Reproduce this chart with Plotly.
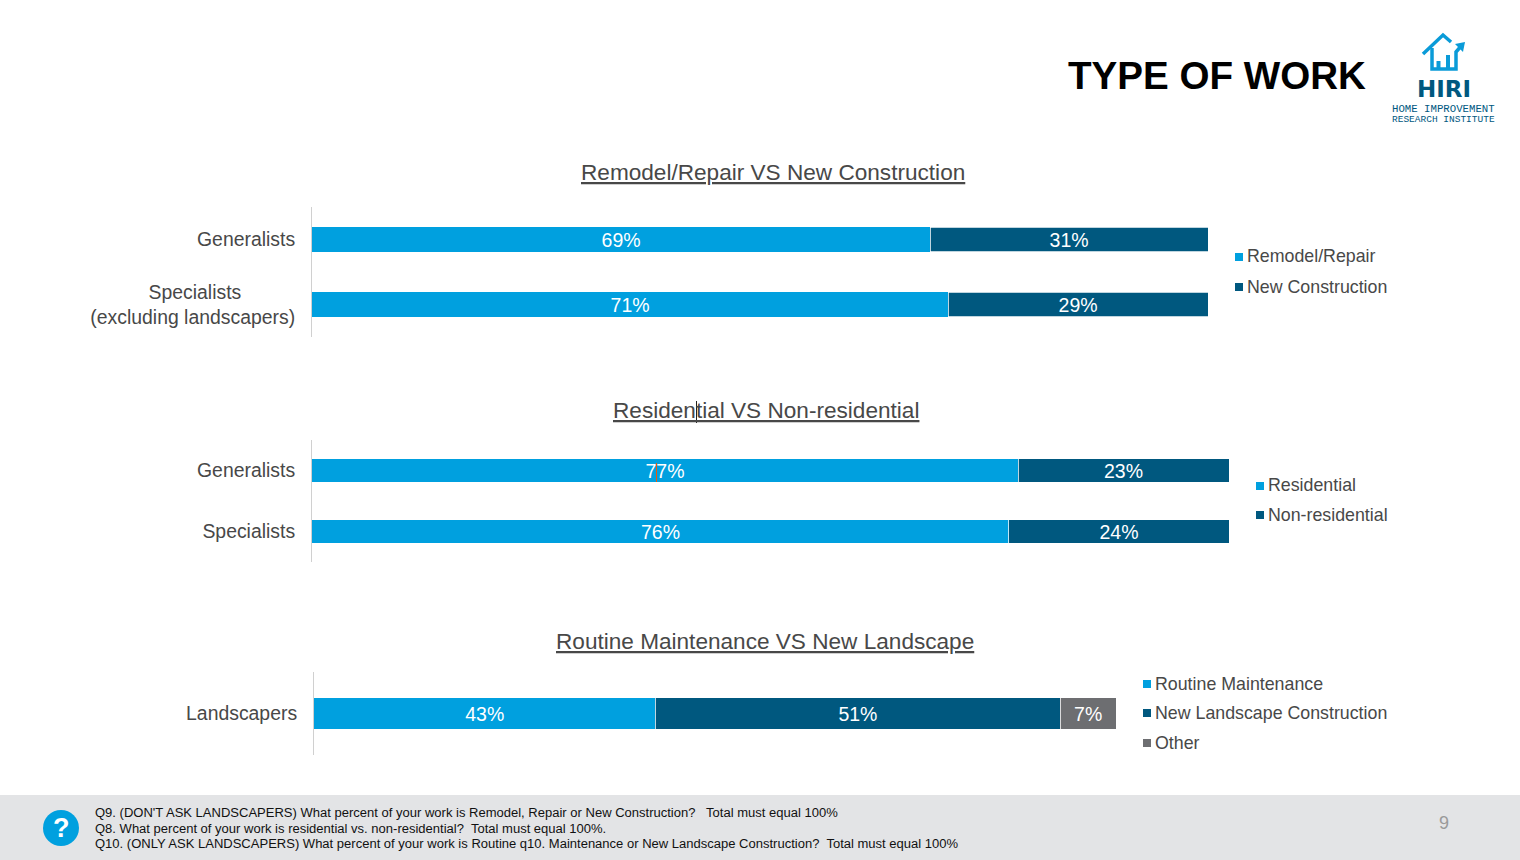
import plotly.graph_objects as go

W, H = 1520, 860
BLUE, DARK, GREY = "#00A0DF", "#00587F", "#6D6E71"
TXT = "#484848"
FONT = "Liberation Sans"

cats1 = ["Generalists", "Specialists"]
ticks1 = ["Generalists", "Specialists" + "\u00a0" * 10 + "<br>(excluding landscapers)"]
remodel = [69, 71]
newcon = [31, 29]

cats2 = ["Generalists", "Specialists"]
residential = [77, 76]
nonres = [23, 24]

cats3 = ["Landscapers"]
routine = [43]
newland = [51]
other = [7]

titles = ["Remodel/Repair VS New Construction", "Residential VS Non-residential",
          "Routine Maintenance VS New Landscape"]
footer = ["Q9. (DON'T ASK LANDSCAPERS) What percent of your work is Remodel, Repair or New Construction?   Total must equal 100%",
          "Q8. What percent of your work is residential vs. non-residential?  Total must equal 100%.",
          "Q10. (ONLY ASK LANDSCAPERS) What percent of your work is Routine q10. Maintenance or New Landscape Construction?  Total must equal 100%"]

px = lambda x: x / W
py = lambda y: 1 - y / H

fig = go.Figure()

def add(name, cats, vals, color, ax, edge=0.75):
    fig.add_trace(go.Bar(
        y=cats, x=vals, name=name, orientation="h", xaxis="x" + ax, yaxis="y" + ax,
        marker=dict(color=color, line=dict(color="white", width=edge)),
        text=[f"{v}%" for v in vals], textposition="inside", insidetextanchor="middle",
        textangle=0, constraintext="none",
        textfont=dict(color="white", size=19.5, family=FONT), showlegend=False))

add("Remodel/Repair", cats1, remodel, BLUE, "", 0)
add("New Construction", cats1, newcon, DARK, "")
add("Residential", cats2, residential, BLUE, "2", 0)
add("Non-residential", cats2, nonres, DARK, "2")
add("Routine Maintenance", cats3, routine, BLUE, "3", 0)
add("New Landscape Construction", cats3, newland, DARK, "3")
add("Other", cats3, other, GREY, "3")

def xax(x0, x1):
    return dict(domain=[px(x0), px(x1)], range=[0, 100], visible=False, fixedrange=True)

def yax(y0, y1, anchor, cats, ticks):
    return dict(domain=[py(y1), py(y0)], anchor=anchor, autorange="reversed", type="category",
                categoryorder="array", categoryarray=cats, tickmode="array", tickvals=cats, ticktext=ticks,
                showline=True, linecolor="#D0D0D0", linewidth=1, ticks="", ticklabelstandoff=12,
                showgrid=False, zeroline=False,
                tickfont=dict(family=FONT, size=19.4, color=TXT))

shapes = [
    dict(type="rect", xref="paper", yref="paper", x0=0, x1=1, y0=0, y1=py(795),
         fillcolor="#E3E4E6", line_width=0, layer="below"),
    dict(type="circle", xref="paper", yref="paper", x0=px(43), x1=px(79), y0=py(846), y1=py(810),
         fillcolor=BLUE, line_width=0),
    # stray text cursors visible on the slide
    dict(type="line", xref="paper", yref="paper", x0=px(696.5), x1=px(696.5), y0=py(423), y1=py(401),
         line=dict(color="#222222", width=1)),
    dict(type="line", xref="paper", yref="paper", x0=px(656.5), x1=px(656.5), y0=py(482), y1=py(463),
         line=dict(color="#E8590C", width=1)),
]

def pathstr(pts, close=False):
    s = "M" + " L".join(f"{px(x):.5f},{py(y):.5f}" for x, y in pts)
    return s + (" Z" if close else "")

LOGO = "#0A9BD8"
# HIRI logo: house outline, chart bars and arrow
for pts, w in [([(1423, 54), (1443, 35), (1451, 42)], 3.5),
               ([(1432, 48), (1432, 69), (1456, 69), (1456, 52), (1462, 45)], 3.5),
               ([(1438.5, 69), (1438.5, 61)], 4), ([(1448, 69), (1448, 55)], 4)]:
    shapes.append(dict(type="path", xref="paper", yref="paper", path=pathstr(pts),
                       line=dict(color=LOGO, width=w)))
shapes.append(dict(type="path", xref="paper", yref="paper",
                   path=pathstr([(1465, 42), (1455, 44), (1463, 52)], True),
                   fillcolor=LOGO, line_width=0))

ann = []
def text(x, y, s, size, color=TXT, anchor="left", bold=False, family=FONT):
    ann.append(dict(xref="paper", yref="paper", x=px(x), y=py(y), text=f"<b>{s}</b>" if bold else s,
                    showarrow=False, xanchor=anchor, yanchor="middle", borderpad=0,
                    font=dict(family=family, size=size, color=color)))

text(1217, 75.5, "TYPE OF WORK", 38.6, "#000000", "center", True)
text(1443.5, 89, "HIRI", 23, DARK, "center", True, "DejaVu Sans")
text(1443.5, 109, "HOME IMPROVEMENT", 10.7, DARK, "center", False, "Liberation Mono")
text(1443.5, 119, "RESEARCH INSTITUTE", 9.5, DARK, "center", False, "Liberation Mono")
text(772.5, 173, f"<u>{titles[0]}</u>", 22.6, TXT, "center")
text(766, 410.5, f"<u>{titles[1]}</u>", 22.6, TXT, "center")
text(765, 641.5, f"<u>{titles[2]}</u>", 22.6, TXT, "center")

def legend(x, ys, names, colors):
    for y, n, c in zip(ys, names, colors):
        shapes.append(dict(type="rect", xref="paper", yref="paper", x0=px(x), x1=px(x + 8),
                           y0=py(y + 4), y1=py(y - 4), fillcolor=c, line_width=0))
        text(x + 11, y - 0.5, n, 17.8)

legend(1235, [257, 287], ["Remodel/Repair", "New Construction"], [BLUE, DARK])
legend(1256, [486, 515], ["Residential", "Non-residential"], [BLUE, DARK])
legend(1143, [684, 713, 743], ["Routine Maintenance", "New Landscape Construction", "Other"], [BLUE, DARK, GREY])

text(94, 812.5, footer[0], 13.03, "#111111")
text(94, 828, footer[1], 13.03, "#111111")
text(94, 843.5, footer[2], 13.03, "#111111")
text(61, 828, "?", 27, "white", "center", True)
text(1444, 823, "9", 18, "#9A9A9A", "center")

fig.update_layout(
    width=W, height=H, margin=dict(l=0, r=0, t=0, b=0), paper_bgcolor="white", plot_bgcolor="white",
    barmode="stack", barnorm="percent", bargap=0.62,
    font=dict(family=FONT),
    xaxis=xax(312, 1208), yaxis=yax(207, 337, "x", cats1, ticks1),
    xaxis2=xax(312, 1229), yaxis2=yax(440, 562, "x2", cats2, cats2),
    xaxis3=xax(314, 1116), yaxis3=yax(672, 755, "x3", cats3, cats3),
    shapes=shapes, annotations=ann,
)
fig.write_html("out.html", config={"displayModeBar": False},
               post_script="document.body.style.margin='0';")
